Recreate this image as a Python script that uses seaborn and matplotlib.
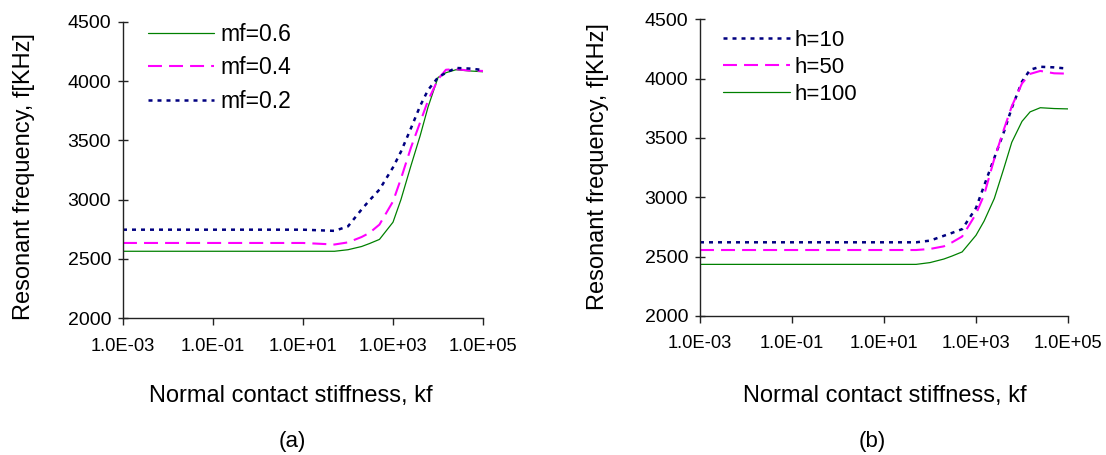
import numpy as np
import pandas as pd
import matplotlib
matplotlib.use("Agg")
import matplotlib.pyplot as plt
import seaborn as sns

# ---------------- data ----------------
kf = [1e-3, 1e-2, 1e-1, 1, 10, 50, 100, 200, 300, 500, 1000, 1500, 2500,
      4000, 6000, 1e4, 1.5e4, 2.5e4, 5e4, 1e5]

# panel (a): effect of mf
mf06 = [2565, 2565, 2565, 2565, 2565, 2565, 2578, 2605, 2630, 2665, 2810, 3000,
        3285, 3537, 3780, 4030, 4070, 4095, 4085, 4078]
mf04 = [2635, 2635, 2635, 2635, 2635, 2622, 2640, 2685, 2720, 2790, 2985, 3176,
        3438, 3651, 3835, 4014, 4095, 4100, 4088, 4085]
mf02 = [2747, 2747, 2747, 2747, 2747, 2737, 2775, 2917, 2994, 3085, 3272, 3404,
        3601, 3789, 3924, 4030, 4070, 4110, 4105, 4093]

# panel (b): effect of h
h10 = [2621, 2621, 2621, 2621, 2621, 2621, 2635, 2676, 2700, 2732, 2910, 3098,
       3332, 3546, 3753, 3975, 4075, 4100, 4095, 4084]
h50 = [2556, 2556, 2556, 2556, 2556, 2556, 2565, 2587, 2620, 2670, 2860, 3020,
       3325, 3568, 3767, 3960, 4040, 4065, 4045, 4042]
h100 = [2435, 2435, 2435, 2435, 2435, 2435, 2450, 2480, 2505, 2540, 2680, 2800,
        2990, 3240, 3464, 3640, 3720, 3755, 3748, 3745]

labels_a = ["mf=0.6", "mf=0.4", "mf=0.2"]
labels_b = ["h=10", "h=50", "h=100"]

xticks = [1e-3, 1e-1, 1e1, 1e3, 1e5]
xtick_labels = ["1.0E-03", "1.0E-01", "1.0E+01", "1.0E+03", "1.0E+05"]
yticks = [2000, 2500, 3000, 3500, 4000, 4500]

xlabel = "Normal contact stiffness, kf"
ylabel = "Resonant frequency, f[KHz]"
captions = ["(a)", "(b)"]

# ---------------- style ----------------
sns.set_style("ticks")
plt.rcParams["font.family"] = ["Liberation Sans", "DejaVu Sans"]
plt.rcParams["text.color"] = "black"
plt.rcParams["axes.labelcolor"] = "black"
plt.rcParams["xtick.color"] = "black"
plt.rcParams["ytick.color"] = "black"

GREEN = "#008000"
PINK = "#FF00FF"
NAVY = "#000080"

styles = {
    "solid": dict(color=GREEN, lw=0.9, linestyle="-"),
    "dash": dict(color=PINK, lw=1.5, linestyle=(0, (6.7, 3.4))),
    "dot": dict(color=NAVY, lw=1.8, linestyle=(0, (1.6, 2.0))),
}

W, H = 1106, 455
fig = plt.figure(figsize=(W / 100, H / 100), dpi=100)

def px_axes(x0, x1, ytop, ybot):
    return fig.add_axes([x0 / W, 1 - ybot / H, (x1 - x0) / W, (ybot - ytop) / H])

axA = px_axes(123, 483, 21.7, 318.3)
axB = px_axes(700, 1068, 19.3, 316.0)

def draw(ax, series, labels, kinds):
    for y, lab, k in zip(series, labels, kinds):
        df = pd.DataFrame({"kf": kf, "f": y})
        sns.lineplot(data=df, x="kf", y="f", ax=ax, label=lab, **styles[k])
    ax.set_xscale("log")
    ax.set_xlim(1e-3, 1e5)
    ax.set_ylim(2000, 4500)
    ax.set_xticks(xticks)
    ax.set_xticklabels(xtick_labels)
    ax.xaxis.set_minor_locator(matplotlib.ticker.NullLocator())
    ax.set_yticks(yticks)
    ax.set_yticklabels([str(v) for v in yticks])
    for s in ["top", "right"]:
        ax.spines[s].set_visible(False)
    for s in ["left", "bottom"]:
        ax.spines[s].set_color("#222222")
        ax.spines[s].set_linewidth(1.0)
    ax.tick_params(axis="x", direction="out", length=5, width=1, color="#222222",
                   labelsize=13.2, pad=9, labelcolor="black")
    ax.tick_params(axis="y", direction="inout", length=7, width=1, color="#222222",
                   labelsize=14, pad=5, labelcolor="black")
    ax.set_xlabel(xlabel, fontsize=17, va="baseline", color="black")
    ax.set_ylabel(ylabel, fontsize=17, va="center", ha="center", color="black")

draw(axA, [mf06, mf04, mf02], labels_a, ["solid", "dash", "dot"])
draw(axB, [h10, h50, h100], labels_b, ["dot", "dash", "solid"])

axA.xaxis.set_label_coords((290.6 - 123) / 360, -(402 - 318.3) / 296.6)
axA.yaxis.set_label_coords((24 - 123) / 360, (318.3 - 177) / 296.6)
axB.xaxis.set_label_coords((885 - 700) / 368, -(402 - 316) / 296.7)
axB.yaxis.set_label_coords((598 - 700) / 368, (316 - 167) / 296.7)

legA = axA.legend(loc="upper left", bbox_to_anchor=((148 - 123) / 360, (318.3 - 23) / 296.6),
                  frameon=False, fontsize=16.5, handlelength=2.9, handletextpad=0.26,
                  labelspacing=0.45, borderpad=0, borderaxespad=0)
legB = axB.legend(loc="upper left", bbox_to_anchor=((723 - 700) / 368, (316 - 30) / 296.7),
                  frameon=False, fontsize=16, handlelength=3.0, handletextpad=0.23,
                  labelspacing=0.27, borderpad=0, borderaxespad=0)
for leg in (legA, legB):
    for t in leg.get_texts():
        t.set_color("black")

fig.text(292 / W, 1 - 447 / H, captions[0], ha="center", va="baseline", fontsize=16)
fig.text(872 / W, 1 - 447 / H, captions[1], ha="center", va="baseline", fontsize=16)

fig.savefig("out.png", dpi=100)
